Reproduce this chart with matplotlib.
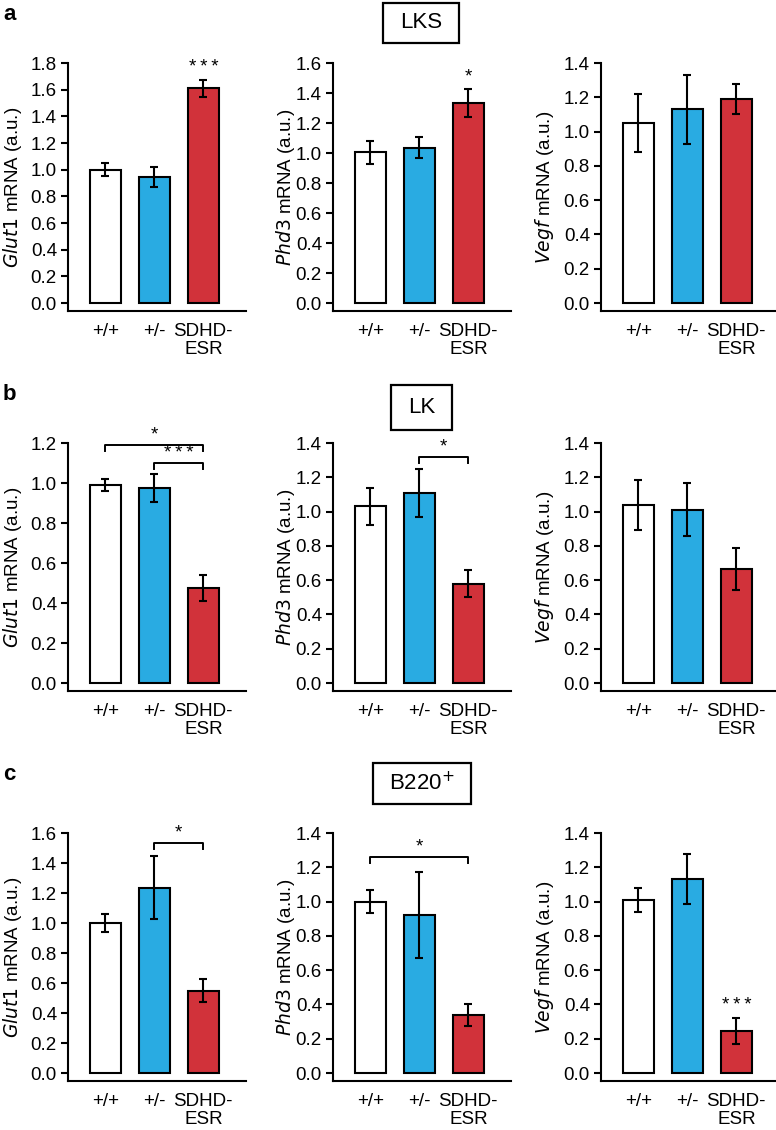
import matplotlib
matplotlib.use("Agg")
import matplotlib.pyplot as plt
from matplotlib.patches import Rectangle

plt.rcParams['font.family'] = ['Liberation Sans', 'DejaVu Sans']

groups = ["+/+", "+/-", "SDHD-\nESR"]
genes = ["Glut1", "Phd3", "Vegf"]
row_titles = ["LKS", "LK", "B220$^{+}$"]
row_letters = ["a", "b", "c"]
colors = ["#FFFFFF", "#29ABE2", "#D1323A"]

# Row a (LKS)
lks_means = [[1.00, 0.945, 1.61], [1.005, 1.035, 1.335], [1.05, 1.13, 1.19]]
lks_errs = [[0.05, 0.075, 0.065], [0.075, 0.07, 0.095], [0.17, 0.20, 0.09]]
# Row b (LK)
lk_means = [[0.99, 0.975, 0.475], [1.03, 1.11, 0.58], [1.04, 1.01, 0.665]]
lk_errs = [[0.03, 0.07, 0.065], [0.11, 0.14, 0.08], [0.145, 0.155, 0.125]]
# Row c (B220+)
b220_means = [[1.00, 1.235, 0.55], [1.00, 0.92, 0.34], [1.01, 1.13, 0.245]]
b220_errs = [[0.06, 0.21, 0.075], [0.067, 0.25, 0.063], [0.07, 0.145, 0.075]]

means = [lks_means, lk_means, b220_means]
errs = [lks_errs, lk_errs, b220_errs]
ymax = [[1.8, 1.6, 1.4], [1.2, 1.4, 1.4], [1.6, 1.4, 1.4]]

STAR3 = "*\u2009*\u2009*"
# significance over a single bar: (row, col, bar, label, y)
single_sig = [(0, 0, 2, STAR3, 1.70), (0, 1, 2, "*", 1.45), (2, 2, 2, STAR3, 0.345)]
# brackets: (row, col, bar_from, bar_to, label, y_top)
brackets = [(1, 0, 0, 2, "*", 1.19), (1, 0, 1, 2, STAR3, 1.10),
            (1, 1, 1, 2, "*", 1.32),
            (2, 0, 1, 2, "*", 1.535), (2, 1, 0, 2, "*", 1.26)]

W, H = 776, 1130
fig = plt.figure(figsize=(W / 100, H / 100), dpi=100)

col_left = [68, 333, 601]
ax_w = 178
row_top = [63, 443, 833]
ax_h = 248
label_x = [-0.245, -0.20, -0.25]
title_centers = [(421, 23), (421.5, 407.5), (422, 783.5)]
title_sizes = [(76, 40), (61, 45), (98, 41)]
letter_y = [15, 395, 775]
FS = 13.5

x = [0, 1, 2]
for r in range(3):
    for c in range(3):
        l = col_left[c] / W
        b = 1 - (row_top[r] + ax_h) / H
        ax = fig.add_axes([l, b, ax_w / W, ax_h / H])
        top = ymax[r][c]
        ax.bar(x, means[r][c], width=0.63, color=colors, edgecolor="black",
               linewidth=1.5, zorder=2)
        ax.errorbar(x, means[r][c], yerr=errs[r][c], fmt="none", ecolor="black",
                    elinewidth=1.5, capsize=3, capthick=1.5, zorder=3)
        ax.set_xlim(-0.76, 2.87)
        ax.set_ylim(-top * 8 / 240, top)
        n = int(round(top / 0.2))
        ax.set_yticks([i * 0.2 for i in range(n + 1)])
        ax.set_yticklabels([f"{i * 0.2:.1f}" for i in range(n + 1)], fontsize=FS)
        ax.set_xticks(x)
        ax.set_xticklabels(groups, fontsize=FS, linespacing=1.05)
        ax.tick_params(axis="x", length=0, pad=9)
        ax.tick_params(axis="y", length=5, width=1.5, direction="out", pad=3)
        for s in ["top", "right"]:
            ax.spines[s].set_visible(False)
        ax.spines["left"].set_linewidth(1.5)
        ax.spines["bottom"].set_linewidth(1.5)
        ax.spines["left"].set_bounds(-top * 8 / 240, top)
        ax.set_ylabel(f"$\\it{{{genes[c]}}}$ mRNA (a.u.)", fontsize=FS)
        ax.yaxis.set_label_coords(label_x[c], 0.5)
        ax.patch.set_visible(False)

        for (rr, cc, bi, lab, yy) in single_sig:
            if rr == r and cc == c:
                ax.text(bi, yy, lab, ha="center", va="bottom", fontsize=13.5)
        for (rr, cc, b0, b1, lab, yy) in brackets:
            if rr == r and cc == c:
                d = top * 0.027
                ax.plot([b0, b0, b1, b1], [yy - d, yy, yy, yy - d], color="black",
                        lw=1.4, clip_on=False)
                ax.text((b0 + b1) / 2, yy + top * 0.005, lab, ha="center",
                        va="bottom", fontsize=13.5)

for r in range(3):
    cx, cy = title_centers[r]
    bw, bh = title_sizes[r]
    fig.patches.append(Rectangle(((cx - bw / 2) / W, 1 - (cy + bh / 2) / H),
                                 bw / W, bh / H, transform=fig.transFigure,
                                 facecolor="white", edgecolor="black", lw=1.6))
    fig.text(cx / W, 1 - cy / H, row_titles[r], ha="center", va="center",
             fontsize=16)
    fig.text(3 / W, 1 - letter_y[r] / H, row_letters[r], ha="left", va="center",
             fontsize=16, fontweight="bold")

fig.savefig("out.png", dpi=100)
